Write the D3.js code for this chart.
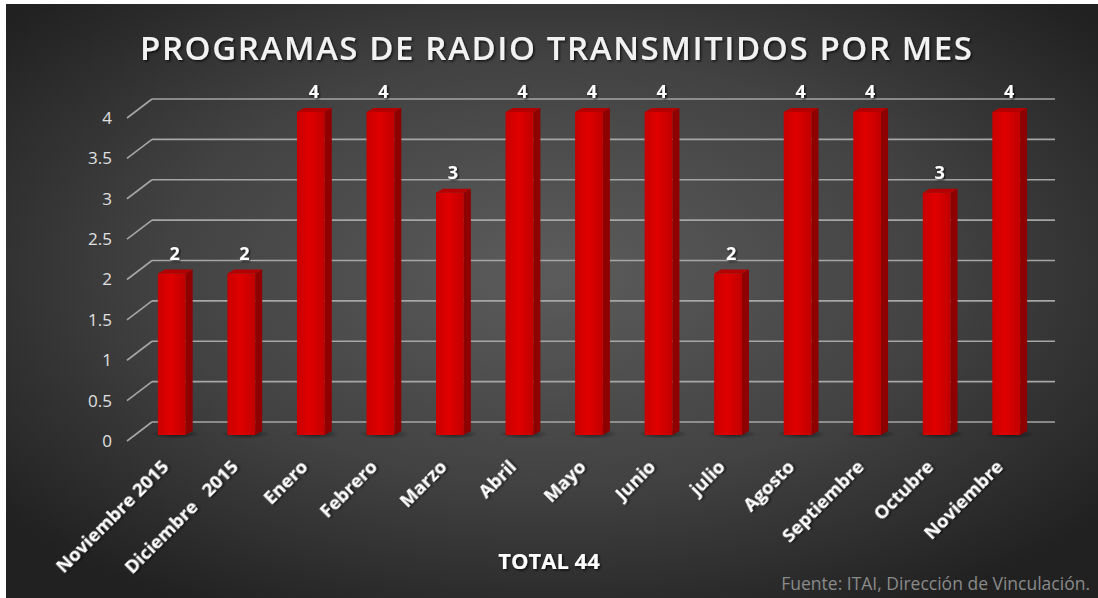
<!DOCTYPE html>
<html>
<head>
<meta charset="utf-8">
<script src="https://cdn.jsdelivr.net/npm/d3@7"></script>
<style>
  html, body { margin: 0; padding: 0; background: #fff; }
  svg { display: block; }
</style>
</head>
<body>
<div id="chart"></div>
<script>
// chart data
const months = ["Noviembre 2015", "Diciembre   2015", "Enero", "Febrero", "Marzo", "Abril",
                "Mayo", "Junio", "julio", "Agosto", "Septiembre", "Octubre", "Noviembre"];
const programs = [2, 2, 4, 4, 3, 4, 4, 4, 2, 4, 4, 3, 4];
const yTicks = [0, 0.5, 1, 1.5, 2, 2.5, 3, 3.5, 4];
const titleText = "PROGRAMAS DE RADIO TRANSMITIDOS POR MES";
const totalText = "TOTAL 44";
const sourceText = "Fuente: ITAI, Dirección de Vinculación.";

const width = 1098, height = 598;
const font = "'Open Sans', Lato, sans-serif";

const svg = d3.select("#chart").append("svg")
    .attr("width", width)
    .attr("height", height);

const defs = svg.append("defs");

// dark radial background, lighter in the middle
const bg = defs.append("radialGradient")
    .attr("id", "bg")
    .attr("cx", "50%").attr("cy", "45%").attr("r", "65%");
bg.append("stop").attr("offset", "0%").attr("stop-color", "#5c5c5c");
bg.append("stop").attr("offset", "55%").attr("stop-color", "#424242");
bg.append("stop").attr("offset", "100%").attr("stop-color", "#212121");

const front = defs.append("linearGradient").attr("id", "front")
    .attr("x1", "0%").attr("x2", "100%");
front.append("stop").attr("offset", "0%").attr("stop-color", "#c80000");
front.append("stop").attr("offset", "45%").attr("stop-color", "#e00000");
front.append("stop").attr("offset", "100%").attr("stop-color", "#c00000");

const shadowGrad = defs.append("radialGradient").attr("id", "shadow");
shadowGrad.append("stop").attr("offset", "0%").attr("stop-color", "#000").attr("stop-opacity", 0.55);
shadowGrad.append("stop").attr("offset", "100%").attr("stop-color", "#000").attr("stop-opacity", 0);

defs.append("filter").attr("id", "txtshadow")
  .append("feDropShadow")
    .attr("dx", 1.5).attr("dy", 1.5).attr("stdDeviation", 1.2)
    .attr("flood-color", "#000").attr("flood-opacity", 0.7);

svg.append("rect")
    .attr("x", 6).attr("y", 4)
    .attr("width", width - 6).attr("height", height - 4)
    .attr("fill", "url(#bg)");

// scales
const x = d3.scaleBand()
    .domain(months)
    .range([137, 1041])
    .paddingInner(0.6)
    .paddingOuter(0.3);

const y = d3.scaleLinear()
    .domain([0, 4])
    .range([435, 112]);

const depthX = 25;                 // floor perspective of the grid
const backOff = -13, frontOff = 6; // grid back/front offsets from bar plane
const gridLeft = 127, gridRight = 1055;

// gridlines: back wall line + diagonal floor tick
const grid = svg.append("g").attr("stroke", "#a6a6a6").attr("stroke-width", 1.6).attr("fill", "none");
grid.selectAll("line.back")
    .data(yTicks)
    .join("line")
    .attr("class", "back")
    .attr("x1", gridLeft + depthX).attr("x2", gridRight)
    .attr("y1", d => y(d) + backOff).attr("y2", d => y(d) + backOff);
grid.selectAll("line.diag")
    .data(yTicks)
    .join("line")
    .attr("class", "diag")
    .attr("x1", gridLeft).attr("y1", d => y(d) + frontOff)
    .attr("x2", gridLeft + depthX).attr("y2", d => y(d) + backOff);

// y labels
svg.append("g").selectAll("text")
    .data(yTicks)
    .join("text")
    .attr("x", 112)
    .attr("y", d => y(d) + frontOff)
    .attr("dy", "0.35em")
    .attr("text-anchor", "end")
    .attr("fill", "#e0e0e0")
    .attr("font-family", font)
    .attr("font-size", 17)
    .text(d => d);

// bars
const bw = x.bandwidth(), sideW = 7, sideH = 4;
const bars = svg.append("g").selectAll("g")
    .data(months.map((m, i) => ({ month: m, value: programs[i] })))
    .join("g");

bars.append("ellipse")
    .attr("cx", d => x(d.month) + bw / 2 + 4)
    .attr("cy", y(0) - 1)
    .attr("rx", bw * 0.9)
    .attr("ry", 5)
    .attr("fill", "url(#shadow)");

bars.append("path")   // side face
    .attr("fill", "#8f0000")
    .attr("d", d => {
        const x1 = x(d.month) + bw, t = y(d.value), b = y(0);
        return `M${x1},${t} L${x1 + sideW},${t - sideH} L${x1 + sideW},${b - sideH} L${x1},${b} Z`;
    });

bars.append("path")   // top face
    .attr("fill", "#b50000")
    .attr("d", d => {
        const x0 = x(d.month), t = y(d.value);
        return `M${x0},${t} L${x0 + sideW},${t - sideH} L${x0 + bw + sideW},${t - sideH} L${x0 + bw},${t} Z`;
    });

bars.append("rect")   // front face
    .attr("x", d => x(d.month))
    .attr("y", d => y(d.value))
    .attr("width", bw)
    .attr("height", d => y(0) - y(d.value))
    .attr("fill", "url(#front)");

bars.append("text")
    .attr("x", d => x(d.month) + bw / 2 + 3)
    .attr("y", d => y(d.value) - 14)
    .attr("text-anchor", "middle")
    .attr("fill", "#fff")
    .attr("font-family", font)
    .attr("font-weight", "bold")
    .attr("font-size", 18)
    .attr("filter", "url(#txtshadow)")
    .text(d => d.value);

// x labels, rotated
svg.append("g").selectAll("text")
    .data(months)
    .join("text")
    .attr("transform", d => `translate(${x(d) + bw / 2 - 2},${468}) rotate(-45)`)
    .attr("text-anchor", "end")
    .attr("fill", "#fff")
    .attr("font-family", font)
    .attr("font-weight", "bold")
    .attr("font-size", 18.5)
    .attr("filter", "url(#txtshadow)")
    .style("white-space", "pre")
    .text(d => d);

// title
svg.append("text")
    .attr("x", 556).attr("y", 60)
    .attr("text-anchor", "middle")
    .attr("fill", "#f2f2f2")
    .attr("font-family", font)
    .attr("font-weight", 600)
    .attr("font-size", 33)
    .attr("textLength", 832)
    .attr("lengthAdjust", "spacing")
    .attr("filter", "url(#txtshadow)")
    .text(titleText);

svg.append("text")
    .attr("x", 549).attr("y", 569)
    .attr("text-anchor", "middle")
    .attr("fill", "#fff")
    .attr("font-family", font)
    .attr("font-weight", "bold")
    .attr("font-size", 22)
    .attr("filter", "url(#txtshadow)")
    .text(totalText);

svg.append("text")
    .attr("x", 1090).attr("y", 590)
    .attr("text-anchor", "end")
    .attr("fill", "#8a8a8a")
    .attr("font-family", font)
    .attr("font-size", 17.5)
    .text(sourceText);
</script>
</body>
</html>
